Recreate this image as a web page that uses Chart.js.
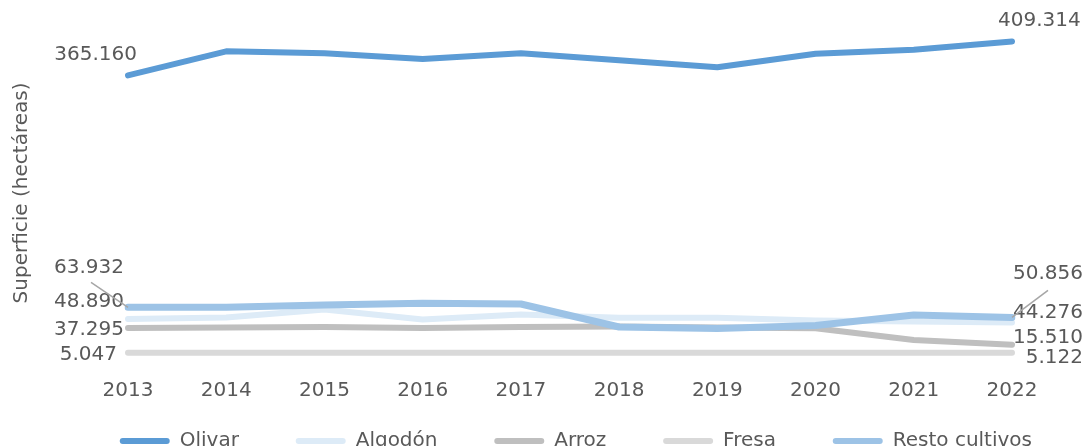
<!DOCTYPE html>
<html>
<head>
<meta charset="utf-8">
<script src="https://cdn.jsdelivr.net/npm/chart.js@4/dist/chart.umd.min.js"></script>
<style>
  html, body { margin: 0; padding: 0; background: #ffffff; overflow: hidden; }
  #wrap { width: 1085px; height: 446px; overflow: hidden; }
</style>
</head>
<body>
<div id="wrap"><canvas id="c" width="1085" height="461"></canvas></div>
<script>
// ---- Data (hectáreas) ----
const years = ['2013', '2014', '2015', '2016', '2017', '2018', '2019', '2020', '2021', '2022'];
const olivar = [365160, 396500, 393900, 386500, 393900, 384800, 375700, 393400, 398600, 409314];
const algodon = [48890, 50800, 61200, 48200, 54700, 50500, 50500, 46900, 45600, 44276];
const arroz = [37295, 37800, 38400, 37100, 38400, 39100, 37800, 36800, 21600, 15510];
const fresa = [5047, 5100, 5000, 4900, 5000, 5100, 5000, 5000, 5100, 5122];
const resto = [63932, 64000, 67000, 69200, 68300, 38400, 36500, 40400, 54000, 50856];
const seriesNames = ['Olivar', 'Algodón', 'Arroz', 'Fresa', 'Resto cultivos'];
const yTitle = 'Superficie (hectáreas)';

// ---- Styles ----
const FONT = "'DejaVu Sans', sans-serif";
const TXT = '#595959';
const colors = ['#5B9BD5', '#DDEBF7', '#BFBFBF', '#D9D9D9', '#9DC3E6'];
const widths = [6, 6, 6, 6, 7];
const drawOrder = [5, 4, 3, 2, 1];
const LEGEND_GAP = '\u00A0\u00A0\u00A0\u00A0\u00A0';

// label placement per series: [first point, last point]
const labelPos = [
  [{dx: 9, dy: -21, align: 'right'}, {dx: -14, dy: -21, align: 'left'}],
  [{dx: -4, dy: -17, align: 'right'}, {dx: 71, dy: -10, align: 'right'}],
  [{dx: -4, dy: 1.5, align: 'right'}, {dx: 71, dy: -6.5, align: 'right'}],
  [{dx: -11, dy: 2.5, align: 'right'}, {dx: 71, dy: 5.5, align: 'right'}],
  [{dx: -4, dy: -40, align: 'right', leader: [-37, -25]}, {dx: 71, dy: -44, align: 'right', leader: [36, -27]}]
];

function fmt(v) {
  return String(Math.round(v)).replace(/\B(?=(\d{3})+(?!\d))/g, '.');
}

const dataLabels = {
  id: 'dataLabels',
  afterDatasetsDraw(chart) {
    const ctx = chart.ctx;
    ctx.save();
    ctx.font = '20px ' + FONT;
    ctx.fillStyle = TXT;
    ctx.textBaseline = 'middle';
    chart.data.datasets.forEach((ds, di) => {
      const meta = chart.getDatasetMeta(di);
      const idxs = [0, ds.data.length - 1];
      idxs.forEach((pi, k) => {
        const pt = meta.data[pi];
        const p = labelPos[di][k];
        if (p.leader) {
          ctx.beginPath();
          ctx.strokeStyle = '#A6A6A6';
          ctx.lineWidth = 1.5;
          ctx.moveTo(pt.x + p.leader[0], pt.y + p.leader[1]);
          ctx.lineTo(pt.x, pt.y);
          ctx.stroke();
        }
        ctx.textAlign = p.align;
        ctx.fillText(fmt(ds.data[pi]), pt.x + p.dx, pt.y + p.dy);
      });
    });
    ctx.restore();
  }
};

const seriesData = [olivar, algodon, arroz, fresa, resto];

new Chart(document.getElementById('c'), {
  type: 'line',
  data: {
    labels: years,
    datasets: seriesNames.map((n, i) => ({
      label: n,
      data: seriesData[i],
      borderColor: colors[i],
      backgroundColor: colors[i],
      borderWidth: widths[i],
      borderCapStyle: 'round',
      borderJoinStyle: 'round',
      pointRadius: 0,
      pointHoverRadius: 0,
      tension: 0,
      fill: false,
      order: drawOrder[i],
      yAxisID: 'y'
    }))
  },
  options: {
    responsive: false,
    animation: false,
    devicePixelRatio: 1,
    layout: { padding: { top: 17.8, right: 28, left: 0, bottom: 0 } },
    plugins: {
      legend: {
        position: 'bottom',
        align: 'end',
        labels: {
          font: { family: FONT, size: 20 },
          color: TXT,
          boxWidth: 50,
          boxHeight: 6,
          padding: 25,
          useBorderRadius: true,
          borderRadius: 3,
          generateLabels(chart) {
            const n = chart.data.datasets.length;
            return chart.data.datasets.map((ds, i) => ({
              text: ds.label + (i < n - 1 ? LEGEND_GAP : ''),
              fillStyle: ds.borderColor,
              strokeStyle: ds.borderColor,
              lineWidth: 0,
              hidden: false,
              datasetIndex: i,
              fontColor: TXT,
              borderRadius: 3
            }));
          }
        }
      },
      tooltip: { enabled: false }
    },
    scales: {
      x: {
        offset: false,
        grid: { display: false, drawTicks: false },
        border: { display: false },
        ticks: { font: { family: FONT, size: 20, lineHeight: 1.4 }, color: TXT, padding: 8.5, maxRotation: 0, autoSkip: false },
        afterFit(s) { s.height = 37.85; }
      },
      y: {
        position: 'left',
        min: -15000,
        max: 440000,
        grid: { display: false, drawTicks: false },
        border: { display: false },
        ticks: { display: false },
        title: { display: true, text: yTitle, font: { family: FONT, size: 20 }, color: TXT, padding: { top: 10, bottom: 0 } },
        afterFit(s) { s.width = 128; }
      },
      y2: {
        position: 'right',
        display: true,
        grid: { display: false, drawTicks: false },
        border: { display: false },
        ticks: { display: false },
        afterFit(s) { s.width = 45; }
      }
    }
  },
  plugins: [dataLabels]
});
</script>
</body>
</html>
